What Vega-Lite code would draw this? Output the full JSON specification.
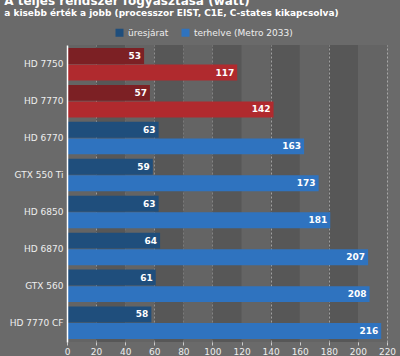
{
  "$schema": "https://vega.github.io/schema/vega-lite/v6.json",
  "width": 320,
  "height": 297,
  "autosize": {"type": "none"},
  "padding": {"left": 67, "top": 45, "right": 13, "bottom": 14},
  "background": "#6a6a6a",
  "title": {
    "text": "A teljes rendszer fogyasztása (watt)",
    "subtitle": "a kisebb érték a jobb (processzor EIST, C1E, C-states kikapcsolva)",
    "anchor": "start",
    "dx": -5,
    "offset": 9,
    "font": "DejaVu Sans",
    "fontSize": 12,
    "fontWeight": "bold",
    "color": "#ffffff",
    "subtitleFont": "DejaVu Sans",
    "subtitleFontSize": 9,
    "subtitleFontWeight": "bold",
    "subtitleColor": "#ffffff",
    "subtitlePadding": 1
  },
  "config": {
    "view": {"fill": "#575757", "stroke": null},
    "font": "DejaVu Sans",
    "axisX": {
      "title": null,
      "values": [0, 20, 40, 60, 80, 100, 120, 140, 160, 180, 200, 220],
      "labelColor": "#eeeeee", "labelFontSize": 9, "labelFont": "DejaVu Sans",
      "labelOverlap": false, "zindex": 1,
      "labelPadding": 2, "tickSize": 3, "tickColor": "#cccccc",
      "domain": false, "grid": true, "gridColor": "#dddddd", "gridDash": [2, 2],
      "gridOpacity": 0.55, "labelFlush": false
    }
  },
  "datasets": {
    "bands": [
      {"from": 0, "to": 20},
      {"from": 40, "to": 60},
      {"from": 80, "to": 100},
      {"from": 120, "to": 140},
      {"from": 160, "to": 180},
      {"from": 200, "to": 220}
    ],
    "bars": [
      {"gpu": "HD 7750", "series": "üresjárat", "family": "HD 77x0", "value": 53},
      {"gpu": "HD 7750", "series": "terhelve (Metro 2033)", "family": "HD 77x0", "value": 117},
      {"gpu": "HD 7770", "series": "üresjárat", "family": "HD 77x0", "value": 57},
      {"gpu": "HD 7770", "series": "terhelve (Metro 2033)", "family": "HD 77x0", "value": 142},
      {"gpu": "HD 6770", "series": "üresjárat", "family": "egyéb", "value": 63},
      {"gpu": "HD 6770", "series": "terhelve (Metro 2033)", "family": "egyéb", "value": 163},
      {"gpu": "GTX 550 Ti", "series": "üresjárat", "family": "egyéb", "value": 59},
      {"gpu": "GTX 550 Ti", "series": "terhelve (Metro 2033)", "family": "egyéb", "value": 173},
      {"gpu": "HD 6850", "series": "üresjárat", "family": "egyéb", "value": 63},
      {"gpu": "HD 6850", "series": "terhelve (Metro 2033)", "family": "egyéb", "value": 181},
      {"gpu": "HD 6870", "series": "üresjárat", "family": "egyéb", "value": 64},
      {"gpu": "HD 6870", "series": "terhelve (Metro 2033)", "family": "egyéb", "value": 207},
      {"gpu": "GTX 560", "series": "üresjárat", "family": "egyéb", "value": 61},
      {"gpu": "GTX 560", "series": "terhelve (Metro 2033)", "family": "egyéb", "value": 208},
      {"gpu": "HD 7770 CF", "series": "üresjárat", "family": "egyéb", "value": 58},
      {"gpu": "HD 7770 CF", "series": "terhelve (Metro 2033)", "family": "egyéb", "value": 216}
    ]
  },
  "layer": [
    {
      "data": {"name": "bands"},
      "mark": {"type": "rect", "color": "#646464"},
      "encoding": {
        "x": {"field": "from", "type": "quantitative", "scale": {"domain": [0, 220], "nice": false}},
        "x2": {"field": "to"}
      }
    },
    {
      "data": {"name": "bars"},
      "layer": [
        {
          "mark": {"type": "bar"},
          "encoding": {
            "y": {
              "field": "gpu", "type": "nominal", "sort": null,
              "scale": {"paddingInner": 0.12, "paddingOuter": 0.08},
              "axis": {
                "title": null, "ticks": false, "labelPadding": 4,
                "labelColor": "#eeeeee", "labelFontSize": 9, "labelFont": "DejaVu Sans",
                "domainColor": "#ffffff", "domainWidth": 1.5, "grid": false, "zindex": 1
              }
            },
            "yOffset": {
              "field": "series", "type": "nominal",
              "sort": ["üresjárat", "terhelve (Metro 2033)"],
              "scale": {"paddingInner": 0.04, "paddingOuter": 0}
            },
            "x": {
              "field": "value", "type": "quantitative",
              "scale": {"domain": [0, 220], "nice": false}
            },
            "color": {
              "field": "series", "type": "nominal",
              "scale": {
                "domain": ["üresjárat", "terhelve (Metro 2033)"],
                "range": ["#1f4e7c", "#2f73bf"]
              },
              "legend": {
                "title": null, "orient": "none", "direction": "horizontal",
                "legendX": 48, "legendY": -17, "symbolType": "square",
                "symbolSize": 64, "symbolStrokeWidth": 0, "symbolOpacity": 1,
                "labelColor": "#eeeeee", "labelFontSize": 9, "labelFont": "DejaVu Sans",
                "columnPadding": 12
              },
              "condition": [
                {"test": "datum.family === 'HD 77x0' && datum.series === 'üresjárat'", "value": "#7c2024"},
                {"test": "datum.family === 'HD 77x0' && datum.series !== 'üresjárat'", "value": "#b02a2e"}
              ]
            }
          }
        },
        {
          "mark": {
            "type": "text", "align": "right", "baseline": "middle", "dx": -3,
            "color": "#ffffff", "fontWeight": "bold", "fontSize": 9, "font": "DejaVu Sans"
          },
          "encoding": {
            "y": {"field": "gpu", "type": "nominal", "sort": null},
            "yOffset": {"field": "series", "type": "nominal", "sort": ["üresjárat", "terhelve (Metro 2033)"]},
            "x": {"field": "value", "type": "quantitative"},
            "text": {"field": "value", "type": "quantitative"}
          }
        }
      ]
    }
  ]
}
